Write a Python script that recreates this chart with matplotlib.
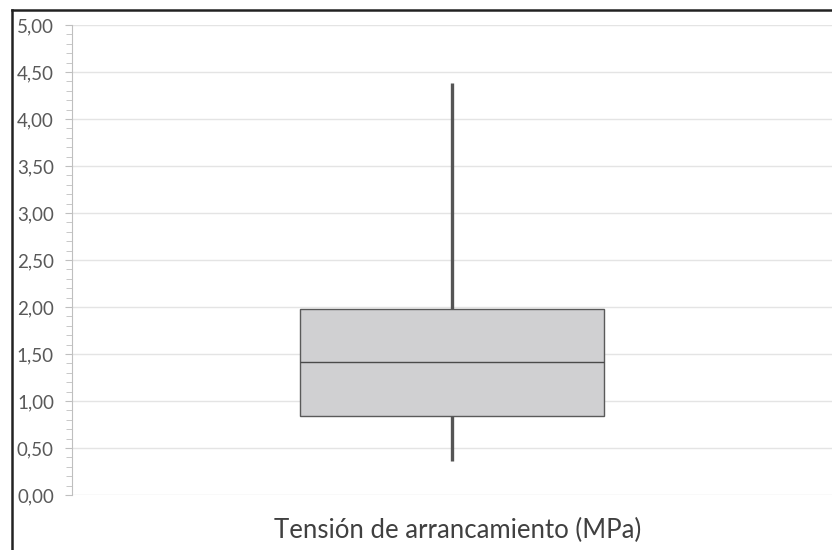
import matplotlib
matplotlib.use('Agg')
import matplotlib.pyplot as plt
from matplotlib.lines import Line2D
from matplotlib.ticker import MultipleLocator, FuncFormatter

# Box plot statistics (MPa)
label = "Tensión de arrancamiento (MPa)"
q1 = 0.84
median = 1.41
q3 = 1.98
whisker_low = 0.36
whisker_high = 4.38

plt.rcParams['font.family'] = ['Lato', 'DejaVu Sans']

fig = plt.figure(figsize=(8.32, 5.5), dpi=100)
ax = fig.add_axes([72 / 832, 0.1, 1 - 72 / 832, 0.9545 - 0.1])

stats = [{'med': median, 'q1': q1, 'q3': q3,
          'whislo': whisker_low, 'whishi': whisker_high, 'fliers': []}]
ax.bxp(stats, positions=[1], widths=0.4, showcaps=False, patch_artist=True,
       boxprops=dict(facecolor='#d0d0d2', edgecolor='#5a5a5a', linewidth=1.0),
       medianprops=dict(color='#4a4a4a', linewidth=1.0),
       whiskerprops=dict(color='#555555', linewidth=2.4, solid_capstyle='butt'))

ax.set_xlim(0.5, 1.5)
ax.set_ylim(0, 5)
ax.yaxis.set_major_locator(MultipleLocator(0.5))
ax.yaxis.set_minor_locator(MultipleLocator(0.1))
ax.yaxis.set_major_formatter(FuncFormatter(lambda v, p: f"{v:.2f}".replace('.', ',')))
ax.grid(axis='y', color='#e4e4e4', linewidth=1.0)
ax.set_axisbelow(True)

for side in ['top', 'right', 'bottom']:
    ax.spines[side].set_visible(False)
ax.spines['left'].set_color('#bfbfbf')
ax.tick_params(axis='y', which='major', length=5, color='#bfbfbf',
               labelsize=13.5, labelcolor='#595959', pad=8)
ax.tick_params(axis='y', which='minor', length=4, color='#bfbfbf')
ax.tick_params(axis='x', bottom=False, labelbottom=False)

# category label under the plot area
fig.text(458 / 832, 1 - 538 / 550, label, fontsize=18.5, color='#404040',
         ha='center', va='baseline')

# outer frame (left and top edges visible in the picture)
fig.add_artist(Line2D([11.5 / 832, 11.5 / 832], [0, 1 - 10 / 550],
                      transform=fig.transFigure, color='#222222', linewidth=1.8))
fig.add_artist(Line2D([11.5 / 832, 1], [1 - 10 / 550, 1 - 10 / 550],
                      transform=fig.transFigure, color='#222222', linewidth=1.8))

fig.savefig('out.png', dpi=100)
